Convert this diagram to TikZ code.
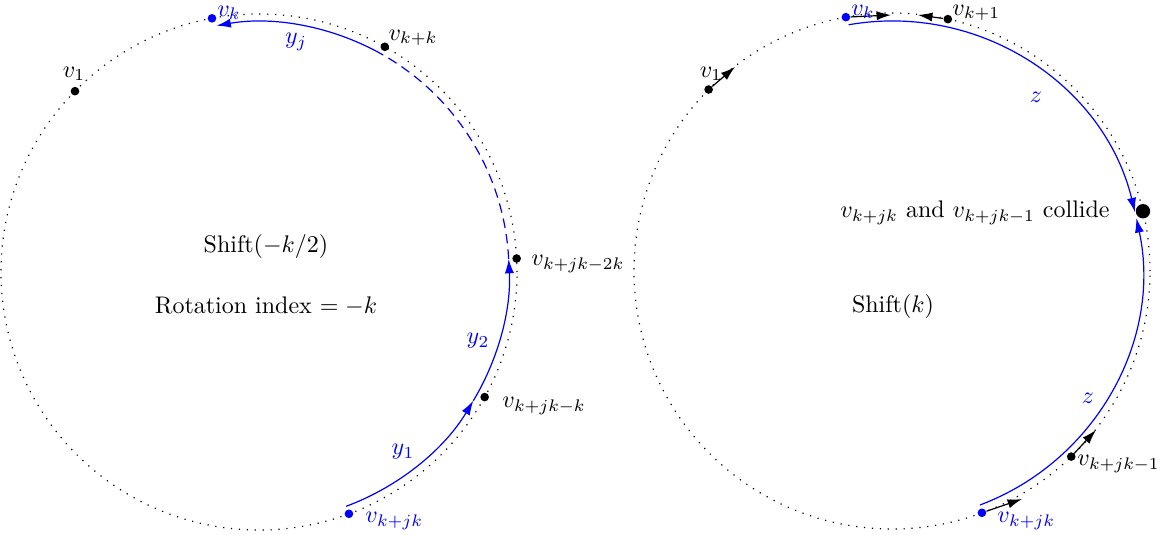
\documentclass[tikz,border=0pt]{standalone}
\usetikzlibrary{arrows.meta}
\begin{document}
\begin{tikzpicture}[x=0.4167pt,y=0.4167pt,
  dotcircle/.style={line width=0.5pt,dash pattern=on 0.5pt off 2.8pt},
  vdot/.style={circle,fill=black,inner sep=0pt,minimum size=3.6pt},
  bdot/.style={circle,fill=blue,inner sep=0pt,minimum size=3.6pt},
  bigdot/.style={circle,fill=black,inner sep=0pt,minimum size=6pt},
  bluepath/.style={blue,line width=0.5pt},
  bluearrow/.style={blue,line width=0.5pt,-{Latex[length=6pt,width=3.8pt]}},
  bluedash/.style={blue,line width=0.5pt,dash pattern=on 4pt off 2.5pt},
  blackarrow/.style={black,line width=0.5pt,-{Latex[length=6pt,width=3.8pt]}},
  lab/.style={inner sep=0pt},
  blab/.style={inner sep=0pt,text=blue}]
\useasboundingbox (0,0) rectangle (1162,534);
\coordinate (L) at (259,262);
\coordinate (R) at (892,263);
% ---------- left circle ----------
\draw[dotcircle] (L) circle[radius=258];
\node[bdot] (lvk) at ([shift={(100.5:258)}]L) {};
\node[vdot] (lvkk) at ([shift={(60.8:258)}]L) {};
\node[vdot] (lv1) at ([shift={(135.5:258)}]L) {};
\node[vdot] (lv2k) at ([shift={(3:258)}]L) {};
\node[vdot] (lv1k) at ([shift={(-29:258)}]L) {};
\node[bdot] (lvjk) at ([shift={(-69.6:258)}]L) {};
\coordinate (la) at ([shift={(-69.6:250)}]L);
\coordinate (lb) at ([shift={(-31:250)}]L);
\coordinate (lc) at ([shift={(3:250)}]L);
\coordinate (ld) at ([shift={(61:250)}]L);
\draw[bluearrow] (la) arc[start angle=-69.6,end angle=-31,radius=250];
\draw[bluearrow] (lb) arc[start angle=-31,end angle=3,radius=250];
\draw[bluedash] (lc) arc[start angle=3,end angle=61,radius=250];
\draw[bluearrow] (ld) arc[start angle=61,end angle=99.8,radius=250];
\node[blab] (tlvk) at (229,521) {$v_k$};
\node[lab] (tlvkk) at (413,496) {$v_{k+k}$};
\node[lab] (tlv1) at (74,460) {$v_1$};
\node[blab] (tyj) at (296,492) {$y_j$};
\node[lab,anchor=west] (tlv2k) at (531,270) {$v_{k+jk-2k}$};
\node[blab] (ty2) at (478,193) {$y_2$};
\node[lab,anchor=west] (tlv1k) at (502,128) {$v_{k+jk-k}$};
\node[blab] (ty1) at (403,82) {$y_1$};
\node[blab,anchor=west] (tlvjk) at (365,13) {$v_{k+jk}$};
\node[lab] (shl) at (266,287) {Shift$(-k/2)$};
\node[lab] (rot) at (266,228) {Rotation index $=-k$};
% ---------- right circle ----------
\draw[dotcircle] (R) circle[radius=258];
\node[bdot] (rvk) at ([shift={(100.3:258)}]R) {};
\node[vdot] (rvk1) at ([shift={(77.5:258)}]R) {};
\node[vdot] (rv1) at ([shift={(135.3:258)}]R) {};
\node[vdot] (rvjk1) at ([shift={(-46:258)}]R) {};
\node[bdot] (rvjk) at ([shift={(-69.6:258)}]R) {};
\node[bigdot] (col) at ([shift={(13.4:258)}]R) {};
\coordinate (ra) at ([shift={(100:250)}]R);
\coordinate (rb) at ([shift={(-69.4:250)}]R);
\draw[bluearrow] (ra) arc[start angle=100,end angle=13.6,radius=250];
\draw[bluearrow] (rb) arc[start angle=-69.4,end angle=12.2,radius=250];
\coordinate (rvkE) at (891,519);
\coordinate (rvk1E) at (918,519);
\coordinate (rv1E) at (735,467);
\coordinate (rvjk1E) at (1096,104);
\coordinate (rvjkE) at (1022,35);
\draw[blackarrow] (rvk) -- (rvkE);
\draw[blackarrow] (rvk1) -- (rvk1E);
\draw[blackarrow] (rv1) -- (rv1E);
\draw[blackarrow] (rvjk1) -- (rvjk1E);
\draw[blackarrow] (rvjk) -- (rvjkE);
\node[blab] (trvk) at (863,522) {$v_k$};
\node[lab,anchor=west] (trvk1) at (952,521) {$v_{k+1}$};
\node[lab] (trv1) at (711,460) {$v_1$};
\node[blab] (tz1) at (1036,437) {$z$};
\node[lab] (tcol) at (975,321) {$v_{k+jk}$ and $v_{k+jk-1}$ collide};
\node[lab] (shr) at (893,228) {Shift$(k)$};
\node[blab] (tz2) at (1088,136) {$z$};
\node[lab,anchor=west] (trvjk1) at (1077,70) {$v_{k+jk-1}$};
\node[blab,anchor=west] (trvjk) at (997,13) {$v_{k+jk}$};
\end{tikzpicture}
\end{document}
